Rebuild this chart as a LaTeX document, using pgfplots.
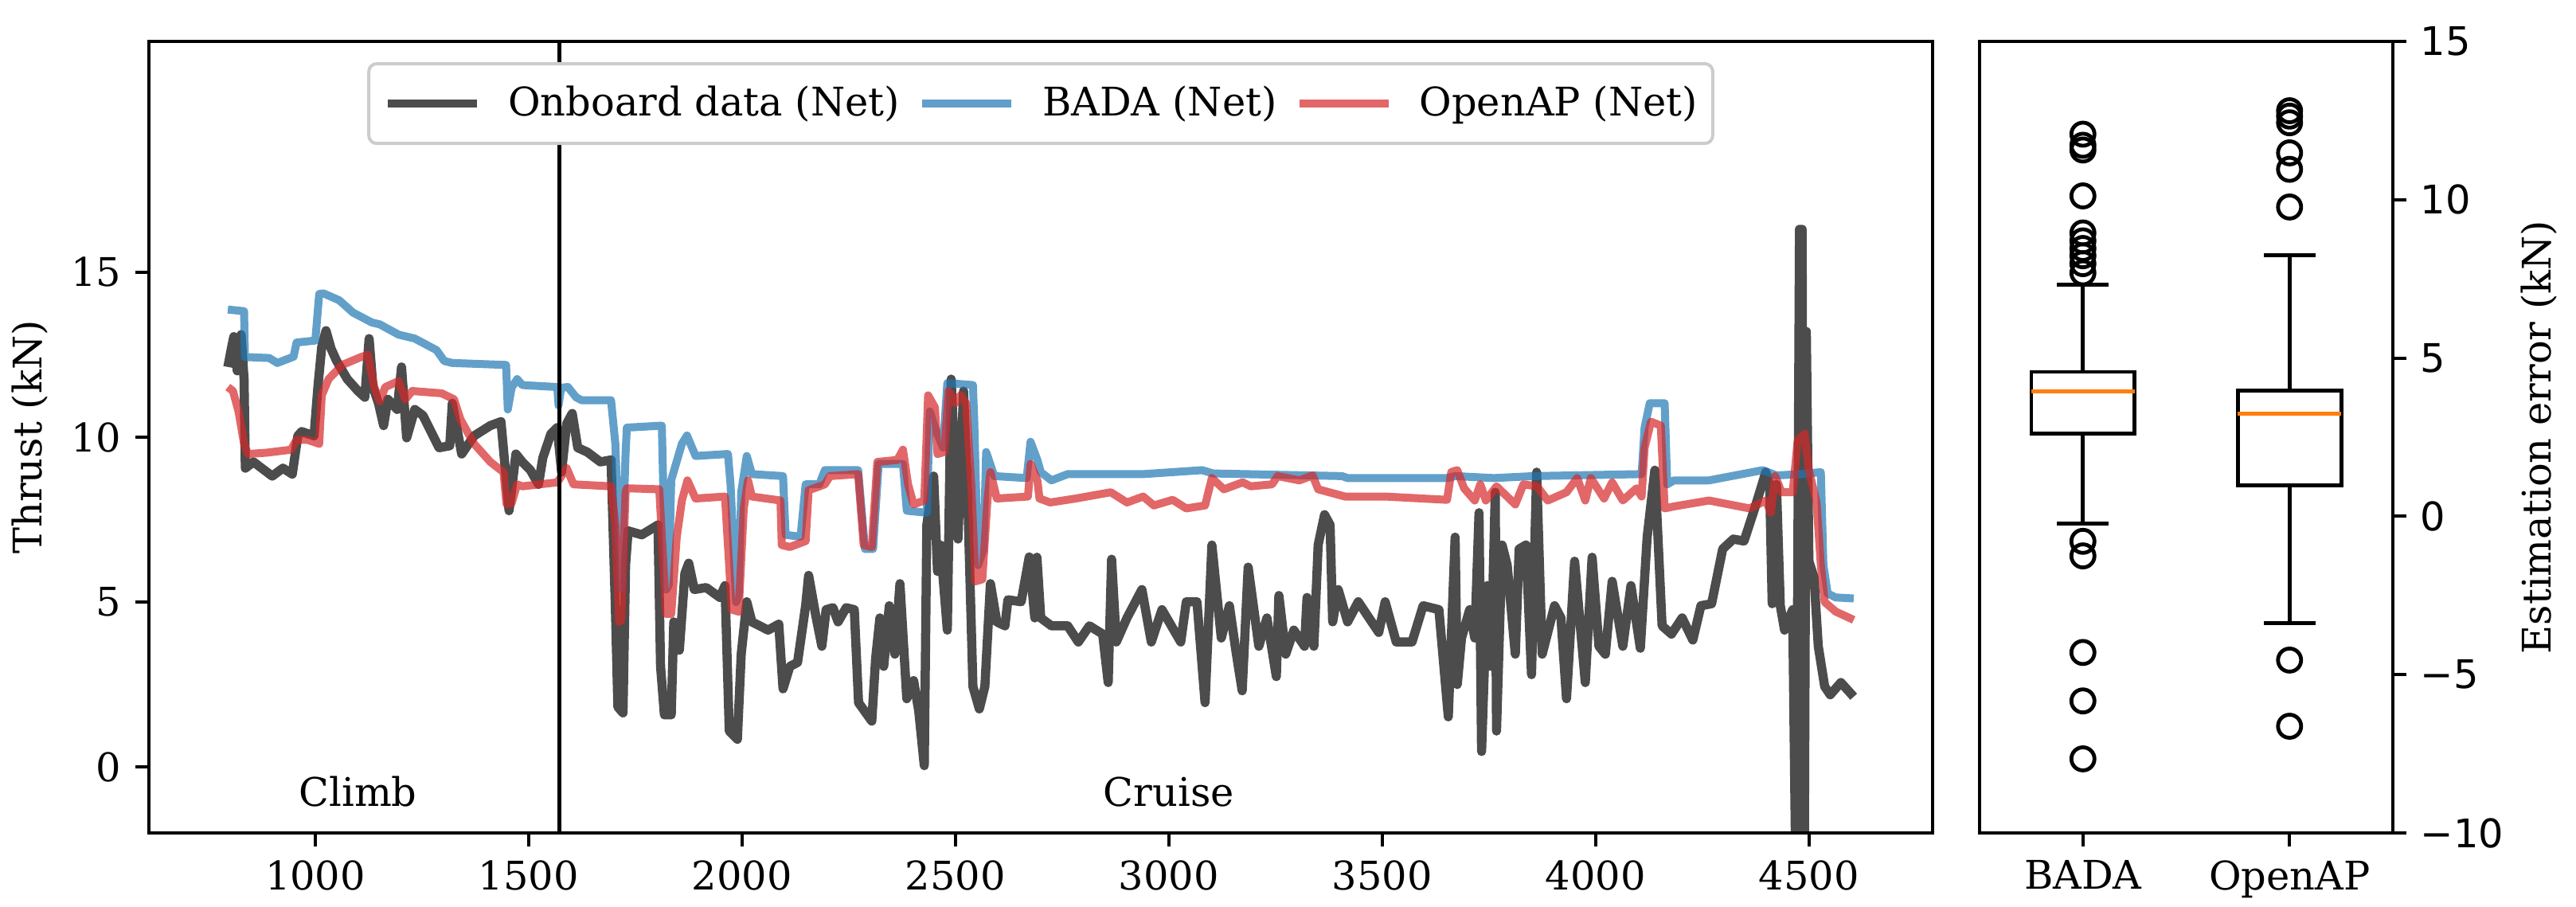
\documentclass[border=0pt]{standalone}
\usepackage{fontspec}
\setmainfont{DejaVu Serif}
\newfontfamily\dvsans{DejaVu Sans}
\usepackage{pgfplots}
\usepgfplotslibrary{statistics}
\pgfplotsset{compat=1.18}
\newcommand\fs{\fontsize{9.9}{11.9}\selectfont}
\definecolor{mplblue}{HTML}{1F77B4}
\definecolor{mplred}{HTML}{D62728}
\definecolor{mplorange}{HTML}{FF7F0E}
\begin{document}
\begin{tikzpicture}
\path[use as bounding box] (0,0) rectangle (647pt,227.6pt);
\pgfplotsset{
  every axis/.append style={font=\fs},
  tick label style={font=\fs},
  /pgf/number format/assume math mode=true,
  tick align=outside,
  major tick length=3.4pt,
  tick style={black, line width=0.8pt},
  axis line style={line width=0.8pt},
}
\begin{axis}[
  at={(37.4pt,18.4pt)}, anchor=south west,
  scale only axis, width=448pt, height=198.8pt,
  xmin=610, xmax=4790, ymin=-2, ymax=22,
  xtick={1000,1500,2000,2500,3000,3500,4000,4500},
  ytick={0,5,10,15},
  xtick pos=bottom, ytick pos=left,
  scaled x ticks=false,
  /pgf/number format/.cd, 1000 sep={}, /pgfplots/.cd,
  legend columns=3,
  legend image code/.code={\draw[#1,line width=2pt] (0pt,0pt) -- (22.4pt,0pt);},
  legend style={at={(axis description cs:0.5,0.9738)}, anchor=north,
    draw=black!20, line width=0.8pt, rounded corners=2pt, fill=white,
    inner xsep=3.8pt, inner ysep=3.5pt, font=\fs,
    nodes={inner xsep=0pt},
    /tikz/every odd column/.append style={column sep=6.8pt},
    /tikz/every even column/.append style={column sep=4.6pt}},
]
\addplot[color=black, opacity=0.7, line width=2.3pt, line join=round] coordinates {
(795,12.13)(804,12.74)(809,13.05)(817,12.01)(826,13.11)(833,11.76)(836,9.06)(855,9.25)(899,8.82)(924,9.06)(946,8.88)(959,10.04)(968,10.17)(997,10.04)(1006,11.52)(1015,12.74)(1025,13.23)(1037,12.68)(1050,12.31)(1075,11.76)(1100,11.4)(1116,11.21)(1126,12.99)(1135,11.52)(1148,11.03)(1160,10.35)(1170,11.15)(1192,10.84)(1202,12.13)(1214,9.98)(1233,10.84)(1252,10.66)(1271,10.17)(1290,9.68)(1315,9.74)(1321,11.03)(1343,9.49)(1372,10.04)(1410,10.35)(1435,10.47)(1454,7.77)(1470,9.49)(1485,9.25)(1504,9.0)(1523,8.57)(1533,9.37)(1552,10.1)(1567,10.29)(1577,8.94)(1589,10.41)(1602,10.72)(1615,9.68)(1637,9.55)(1668,9.25)(1693,9.31)(1703,4.89)(1709,1.82)(1721,1.64)(1727,6.12)(1733,7.16)(1765,7.04)(1803,7.34)(1809,3.05)(1818,1.58)(1834,1.58)(1840,4.4)(1853,3.54)(1866,5.87)(1875,6.18)(1888,5.38)(1916,5.44)(1948,5.14)(1960,5.5)(1970,1.09)(1989,0.84)(1998,3.42)(2011,5.01)(2023,4.4)(2061,4.15)(2086,4.33)(2096,2.37)(2112,3.05)(2130,3.17)(2149,4.89)(2156,5.81)(2172,4.64)(2187,3.66)(2197,4.77)(2213,4.83)(2225,4.4)(2244,4.83)(2263,4.77)(2273,1.95)(2304,1.39)(2313,3.29)(2323,4.52)(2332,3.05)(2345,4.89)(2358,3.42)(2370,5.56)(2386,2.07)(2402,2.62)(2414,1.7)(2427,0.04)(2433,7.34)(2449,8.82)(2458,5.93)(2465,6.73)(2481,4.15)(2490,11.76)(2506,6.91)(2519,11.4)(2528,8.57)(2541,2.44)(2556,1.76)(2569,2.44)(2582,5.56)(2597,4.4)(2616,4.28)(2623,5.07)(2654,5.01)(2673,6.37)(2686,4.52)(2691,6.36)(2700,4.52)(2725,4.28)(2763,4.28)(2788,3.79)(2814,4.28)(2845,4.03)(2858,2.56)(2866,6.3)(2877,3.79)(2902,4.52)(2937,5.38)(2959,3.79)(2984,4.77)(3028,3.79)(3041,5.01)(3066,5.01)(3085,1.95)(3101,6.73)(3123,3.91)(3142,4.89)(3157,3.54)(3172,2.31)(3186,6.06)(3211,3.66)(3230,4.52)(3252,2.74)(3258,5.2)(3274,3.42)(3293,4.15)(3318,3.66)(3324,5.14)(3340,3.66)(3350,6.73)(3365,7.65)(3378,7.34)(3384,4.4)(3397,5.38)(3419,4.4)(3444,5.01)(3492,4.08)(3507,5.01)(3533,3.79)(3570,3.79)(3596,4.89)(3633,4.77)(3655,1.52)(3671,6.97)(3676,2.5)(3686,3.91)(3705,4.77)(3717,3.91)(3727,7.71)(3733,0.47)(3746,5.5)(3755,3.05)(3765,8.33)(3768,1.09)(3781,6.73)(3793,6.12)(3812,3.42)(3821,6.61)(3837,6.73)(3850,2.8)(3862,8.94)(3875,3.42)(3904,4.89)(3919,4.52)(3932,2.07)(3951,6.24)(3976,2.56)(3992,6.36)(4008,3.66)(4023,3.42)(4039,5.63)(4064,3.66)(4083,5.5)(4105,3.6)(4121,6.97)(4139,9.0)(4156,4.28)(4178,4.03)(4203,4.52)(4228,3.85)(4247,4.89)(4272,4.95)(4298,6.61)(4323,6.91)(4348,6.85)(4373,7.84)(4399,8.94)(4408,8.57)(4414,4.95)(4424,8.57)(4433,4.89)(4443,4.15)(4462,4.77)(4470,-4)(4478,16.3)(4484,16.3)(4489,-4)(4494,13.2)(4500,6.24)(4512,5.75)(4522,3.66)(4537,2.44)(4550,2.19)(4575,2.56)(4605,2.13)
};
\addlegendentry{Onboard data (Net)}
\addplot[color=mplblue, opacity=0.7, line width=2pt, line join=round] coordinates {
(795,13.87)(833,13.82)(835,12.43)(892,12.40)(911,12.25)(949,12.44)(956,12.87)(1000,12.93)(1009,14.34)(1019,14.36)(1056,14.15)(1088,13.78)(1132,13.48)(1151,13.42)(1195,13.11)(1233,12.99)(1284,12.64)(1302,12.31)(1321,12.25)(1447,12.19)(1451,10.84)(1460,11.5)(1473,11.76)(1485,11.58)(1567,11.52)(1570,10.96)(1576,11.5)(1592,11.52)(1611,11.21)(1624,11.12)(1693,11.12)(1703,9.8)(1712,6.6)(1717,5.4)(1727,9.5)(1730,10.29)(1812,10.35)(1817,7.5)(1822,5.38)(1828,5.5)(1834,8.7)(1859,9.8)(1871,10.05)(1891,9.43)(1967,9.49)(1973,8.57)(1986,5.0)(1992,5.2)(1998,8.33)(2011,9.43)(2023,8.88)(2096,8.82)(2102,7.04)(2137,6.98)(2149,8.57)(2181,8.57)(2194,9.0)(2272,9.0)(2288,6.61)(2307,6.61)(2320,9.19)(2377,9.19)(2386,7.77)(2433,7.71)(2440,10.78)(2452,10.29)(2471,9.68)(2481,11.64)(2541,11.58)(2544,10.54)(2553,6.12)(2566,6.61)(2572,9.55)(2591,8.82)(2667,8.76)(2676,9.86)(2692,9.31)(2700,8.94)(2725,8.69)(2763,8.88)(2940,8.88)(3078,9.0)(3104,8.9)(3406,8.82)(3419,8.76)(3652,8.76)(3671,8.82)(3762,8.76)(3856,8.82)(4108,8.88)(4115,10.29)(4127,11.03)(4162,11.03)(4168,8.57)(4184,8.69)(4266,8.69)(4392,9.0)(4424,8.84)(4481,8.88)(4528,8.94)(4534,6.12)(4544,5.26)(4563,5.14)(4605,5.11)
};
\addlegendentry{BADA (Net)}
\addplot[color=mplred, opacity=0.7, line width=2pt, line join=round] coordinates {
(795,11.52)(807,11.4)(820,10.78)(833,9.8)(842,9.49)(886,9.53)(943,9.62)(956,9.92)(981,9.92)(1009,9.8)(1015,11.27)(1031,11.76)(1063,12.19)(1107,12.43)(1123,12.5)(1138,11.52)(1151,11.09)(1164,11.52)(1195,11.7)(1211,11.15)(1227,11.4)(1296,11.33)(1325,11.15)(1340,10.54)(1372,9.8)(1410,9.25)(1441,8.94)(1448,7.96)(1460,8.0)(1473,8.57)(1485,8.51)(1567,8.63)(1589,9.06)(1605,8.57)(1693,8.51)(1703,7.34)(1712,4.4)(1717,4.46)(1727,8.33)(1730,8.45)(1806,8.42)(1822,4.64)(1834,4.64)(1847,6.98)(1859,8.08)(1872,8.69)(1891,8.14)(1960,8.2)(1976,4.77)(1992,4.71)(2004,7.84)(2014,8.69)(2023,8.2)(2090,8.08)(2093,6.73)(2112,6.67)(2149,6.85)(2156,8.39)(2194,8.57)(2206,8.82)(2272,8.88)(2285,6.73)(2304,6.67)(2317,9.25)(2364,9.31)(2377,9.62)(2389,8.57)(2402,7.96)(2427,8.08)(2436,11.27)(2452,10.9)(2458,9.49)(2474,9.55)(2484,11.4)(2500,11.03)(2512,11.27)(2525,11.03)(2537,8.57)(2547,5.63)(2563,5.69)(2575,8.08)(2582,8.94)(2597,8.14)(2670,8.2)(2676,9.19)(2692,8.69)(2697,8.14)(2722,8.02)(2782,8.14)(2864,8.33)(2902,8.02)(2940,8.2)(2965,7.93)(3009,8.1)(3041,7.84)(3085,7.93)(3101,8.76)(3129,8.42)(3173,8.63)(3192,8.51)(3242,8.57)(3255,8.82)(3306,8.69)(3337,8.84)(3350,8.42)(3413,8.2)(3507,8.2)(3652,8.1)(3662,8.94)(3676,9.0)(3692,8.45)(3717,8.08)(3730,8.57)(3743,8.08)(3768,8.51)(3812,7.96)(3831,8.57)(3863,8.51)(3888,8.08)(3932,8.33)(3957,8.76)(3976,8.08)(3989,8.76)(4020,8.14)(4039,8.63)(4064,8.08)(4096,8.45)(4108,8.2)(4115,9.68)(4130,10.47)(4153,10.35)(4162,7.84)(4184,7.9)(4266,8.08)(4361,7.84)(4399,8.08)(4411,7.71)(4421,8.82)(4436,8.33)(4462,8.33)(4474,9.92)(4490,10.1)(4500,9.0)(4518,8.02)(4528,6.12)(4537,5.0)(4563,4.71)(4605,4.46)
};
\addlegendentry{OpenAP (Net)}
\addplot[black, line width=0.9pt, forget plot] coordinates {(1572,-2)(1572,22)};
\node[font=\fs] at (axis cs:1100,-0.75) {Climb};
\node[font=\fs] at (axis cs:3000,-0.75) {Cruise};
\end{axis}
\begin{axis}[
  at={(497.2pt,18.4pt)}, anchor=south west,
  scale only axis, width=103.8pt, height=198.8pt,
  xmin=0.5, xmax=2.5, ymin=-10, ymax=15,
  xtick={1,2}, xticklabels={BADA,OpenAP},
  ytick={-10,-5,0,5,10,15}, yticklabels={−10,−5,0,5,10,15},
  yticklabel style={font=\dvsans\fs},
  xtick pos=bottom, ytick pos=right, yticklabel pos=right,
  boxplot/draw direction=y,
]
\addplot[black, line width=0.96pt, mark=o, mark size=2.9pt, mark options={line width=0.96pt, solid},
  boxplot prepared={draw position=1, median=3.95, upper quartile=4.56, lower quartile=2.62,
    upper whisker=7.31, lower whisker=-0.22, box extend=0.5, whisker extend=0.25,
    every median/.style={draw=mplorange, line width=0.96pt}}]
  table[row sep=\\, y index=0] {data\\ 12.07\\ 11.72\\ 11.57\\ 10.12\\ 8.95\\ 8.70\\ 8.46\\ 8.23\\ 7.98\\ 7.69\\ -0.79\\ -1.25\\ -4.30\\ -5.83\\ -7.66\\};
\addplot[black, line width=0.96pt, mark=o, mark size=2.9pt, mark options={line width=0.96pt, solid},
  boxplot prepared={draw position=2, median=3.24, upper quartile=3.97, lower quartile=0.97,
    upper whisker=8.24, lower whisker=-3.38, box extend=0.5, whisker extend=0.25,
    every median/.style={draw=mplorange, line width=0.96pt}}]
  table[row sep=\\, y index=0] {data\\ 12.81\\ 12.64\\ 12.43\\ 11.48\\ 10.96\\ 9.77\\ -4.54\\ -6.63\\};
\end{axis}
\node[font=\fs, rotate=90] at (7.6pt,117.8pt) {Thrust (kN)};
\node[font=\fs, rotate=90] at (637.6pt,117.8pt) {Estimation error (kN)};
\end{tikzpicture}
\end{document}
